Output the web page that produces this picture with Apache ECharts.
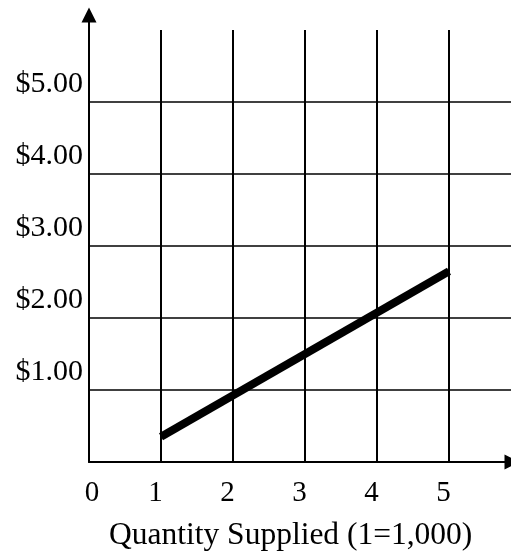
<!DOCTYPE html>
<html>
<head>
<meta charset="utf-8">
<script src="https://cdn.jsdelivr.net/npm/echarts@6/dist/echarts.min.js"></script>
<style>
  html, body { margin: 0; padding: 0; background: #fff; }
  #chart { width: 511px; height: 559px; }
</style>
</head>
<body>
<div id="chart"></div>
<script>
// supply curve: quantity (thousands) vs price
var xTickLabels = ['0', '1', '2', '3', '4', '5'];
var yTickLabels = ['$1.00', '$2.00', '$3.00', '$4.00', '$5.00'];
var supplyQty = [1, 5];
var supplyPrice = [0.35, 2.65];
var xTitle = 'Quantity Supplied (1=1,000)';

var serif = 'Liberation Serif';
var lineData = supplyQty.map(function (q, i) { return [q, supplyPrice[i]]; });

var chart = echarts.init(document.getElementById('chart'), null, { renderer: 'canvas' });
chart.setOption({
  animation: false,
  backgroundColor: '#fff',
  title: {
    text: xTitle,
    left: 109,
    top: 520,
    padding: 0,
    textStyle: { fontFamily: serif, fontSize: 31.5, fontWeight: 'normal', color: '#000' }
  },
  grid: [
    // grid with the tick grid
    { left: 89, width: 432, top: 30, height: 432, outerBoundsMode: 'none' },
    // grid that only carries the arrowed axes
    { left: 89, width: 423, top: 15, height: 447, outerBoundsMode: 'none' }
  ],
  xAxis: [
    {
      type: 'value', gridIndex: 0, min: 0, max: 6, interval: 1,
      axisLine: { show: false },
      axisTick: { show: false },
      axisLabel: {
        margin: 17,
        color: '#000', fontFamily: serif, fontSize: 29,
        formatter: function (v) {
          if (v > 5) return '';
          return (v === 0 ? '{z|' : '{n|') + xTickLabels[v] + '}';
        },
        rich: {
          z: { fontFamily: serif, fontSize: 29, color: '#000', padding: [0, 0, 0, 6] },
          n: { fontFamily: serif, fontSize: 29, color: '#000', padding: [0, 11, 0, 0] }
        }
      },
      splitLine: { show: true, showMinLine: false, showMaxLine: false, lineStyle: { color: '#000', width: 2 } }
    },
    {
      type: 'value', gridIndex: 1, min: 0, max: 1,
      axisLine: { show: true, symbol: ['none', 'triangle'], symbolSize: [15, 15], lineStyle: { color: '#000', width: 2 } },
      axisTick: { show: false },
      axisLabel: { show: false },
      splitLine: { show: false }
    }
  ],
  yAxis: [
    {
      type: 'value', gridIndex: 0, min: 0, max: 6, interval: 1,
      axisLine: { show: false },
      axisTick: { show: false },
      axisLabel: {
        margin: 6,
        color: '#000', fontFamily: serif, fontSize: 30,
        verticalAlign: 'bottom',
        lineHeight: 30,
        padding: [0, 0, 3, 0],
        formatter: function (v) {
          return (v >= 1 && v <= 5) ? yTickLabels[v - 1] : '';
        }
      },
      splitLine: { show: true, showMinLine: false, showMaxLine: false, lineStyle: { color: '#000', width: 1.5 } }
    },
    {
      type: 'value', gridIndex: 1, min: 0, max: 1,
      axisLine: { show: true, symbol: ['none', 'triangle'], symbolSize: [15, 15], lineStyle: { color: '#000', width: 2 } },
      axisTick: { show: false },
      axisLabel: { show: false },
      splitLine: { show: false }
    }
  ],
  series: [{
    type: 'line',
    xAxisIndex: 0,
    yAxisIndex: 0,
    data: lineData,
    showSymbol: false,
    symbol: 'none',
    lineStyle: { color: '#000', width: 8, cap: 'butt' }
  }]
});
</script>
</body>
</html>
